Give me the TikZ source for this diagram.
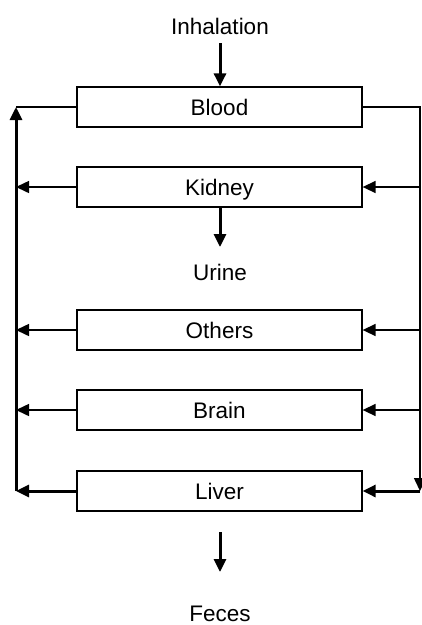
\documentclass[tikz,border=0pt]{standalone}
\usepackage{fontspec}
\setmainfont{Liberation Sans}
\usetikzlibrary{arrows.meta}
\begin{document}
\begin{tikzpicture}[x=1pt,y=-1pt,
  lbl/.style={inner sep=0pt,text height=16pt,text depth=0pt,font=\fontsize{22.5}{27}\selectfont},
  box/.style={lbl,draw,line width=1.3pt,minimum width=285pt,minimum height=40pt},
  wline/.style={line width=1.5pt},
  bline/.style={line width=3pt},
  tip/.style={-{Triangle[length=13pt,width=12pt]}}]
\useasboundingbox (0,0) rectangle (422,625);
\node[lbl] (inh) at (220,26.5) {Inhalation};
\node[box] (blood) at (219.5,107) {Blood};
\node[box] (kidney) at (219.5,187) {Kidney};
\node[lbl] (urine) at (220,272) {Urine};
\node[box] (others) at (219.5,330) {Others};
\node[box] (brain) at (219.5,410) {Brain};
\node[box] (liver) at (219.5,491) {Liver};
\node[lbl] (feces) at (220,613) {Feces};
% corner points
\coordinate (lt) at (16,107);
\coordinate (lb) at (16,491);
\coordinate (rt) at (420,107);
\coordinate (rb) at (420,491);
\coordinate (fa) at (220,532);
\coordinate (fb) at (220,572);
% vertical flows
\draw[bline,tip] (inh.south |- 0,43) -- (blood.north -| inh.south);
\draw[bline,tip] (kidney.south -| urine.north) -- (urine.north |- 0,247);
\draw[bline,tip] (fa) -- (fb);
% right side: blood out to organs
\draw[wline,tip] (blood.east) -- (rt) -- (rb);
\draw[wline,tip] (rt |- kidney.east) -- (kidney.east);
\draw[wline,tip] (rt |- others.east) -- (others.east);
\draw[wline,tip] (rt |- brain.east) -- (brain.east);
\draw[bline,tip] (rb) -- (liver.east);
% left side: organs back to blood
\draw[wline,tip] (kidney.west) -- (lt |- kidney.west);
\draw[wline,tip] (others.west) -- (lt |- others.west);
\draw[wline,tip] (brain.west) -- (lt |- brain.west);
\draw[bline,tip] (liver.west) -- (lb);
\draw[bline,tip] (lb) -- (lt);
\draw[wline] (lt) -- (blood.west);
\end{tikzpicture}
\end{document}
